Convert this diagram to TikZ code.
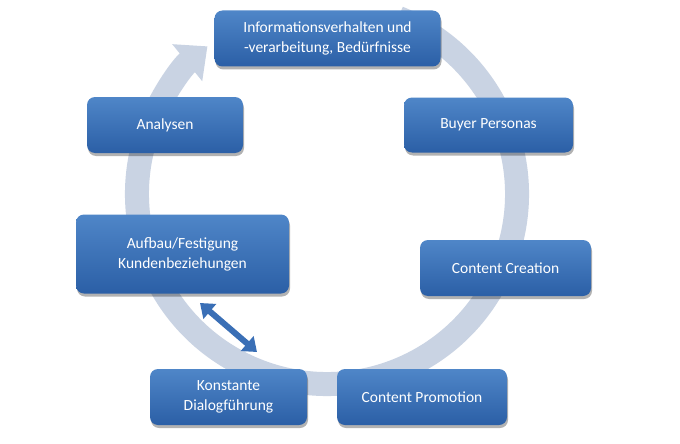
\documentclass[tikz,border=0pt]{standalone}
\usepackage{fontspec}
\setmainfont{Carlito}
\usetikzlibrary{arrows.meta,shadows}
\definecolor{ringc}{HTML}{C9D3E3}
\definecolor{boxtop}{HTML}{4F86C8}
\definecolor{boxbot}{HTML}{2B5FA6}
\definecolor{dblarr}{HTML}{3A6FB6}
\tikzset{
  stepbox/.style={rectangle, rounded corners=8pt, inner sep=0pt, align=center,
    top color=boxtop, bottom color=boxbot, draw=none, text=white,
    font=\fontsize{15.5}{20}\selectfont,
    drop shadow={shadow xshift=1pt, shadow yshift=-3pt, opacity=0.3, fill=black}},
  ring/.style={draw=ringc, line width=24pt, line cap=butt,
    -{Triangle[length=26pt,width=46pt,fill=ringc]}},
  twoway/.style={draw=dblarr, line width=6pt,
    {Triangle[length=13pt,width=19pt]}-{Triangle[length=13pt,width=19pt]}}
}
\begin{document}
\begin{tikzpicture}[x=1pt,y=1pt]
\useasboundingbox (0,0) rectangle (680,-444);
\fill[white] (0,0) rectangle (680,-444);
\coordinate (c) at (327,-194);
\draw[ring] (c) ++(68:190) arc[start angle=68, end angle=-231, radius=190];
\node[stepbox, minimum width=226pt, minimum height=56pt] (info) at (327.5,-38.5) {Informationsverhalten und\\-verarbeitung, Bedürfnisse};
\node[stepbox, minimum width=156pt, minimum height=56pt] (ana) at (165,-125) {Analysen};
\node[stepbox, minimum width=169pt, minimum height=55pt] (buy) at (488.5,-125) {Buyer Personas};
\node[stepbox, minimum width=213pt, minimum height=79pt] (auf) at (182.5,-254) {Aufbau/Festigung\\Kundenbeziehungen};
\node[stepbox, minimum width=171pt, minimum height=56pt] (cc) at (505.5,-268) {Content Creation};
\node[stepbox, minimum width=157pt, minimum height=56pt] (kon) at (228.5,-397) {Konstante\\Dialogführung};
\node[stepbox, minimum width=170pt, minimum height=56pt] (cp) at (422,-397) {Content Promotion};
\coordinate (da1) at (200,-303);
\coordinate (da2) at (257,-352);
\draw[twoway] (da1) -- (da2);
\end{tikzpicture}
\end{document}
